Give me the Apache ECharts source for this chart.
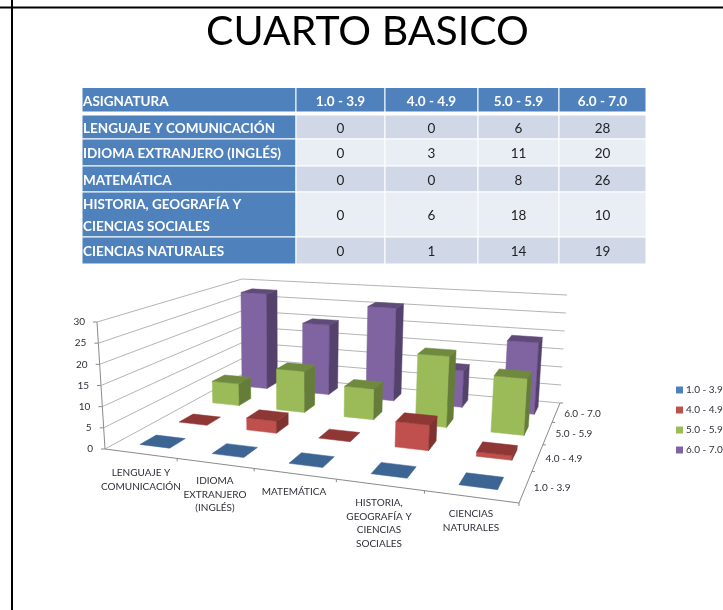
<!DOCTYPE html>
<html>
<head>
<meta charset="utf-8">
<title>CUARTO BASICO</title>
<style>
  html, body { margin: 0; padding: 0; background: #fff; }
  #main { width: 723px; height: 610px; }
</style>
<script src="https://cdn.jsdelivr.net/npm/echarts@6/dist/echarts.min.js"></script>
</head>
<body>
<div id="main"></div>
<script>
// datos de la tabla y del grafico
const subjects = ["LENGUAJE Y COMUNICACIÓN", "IDIOMA EXTRANJERO (INGLÉS)", "MATEMÁTICA", "HISTORIA, GEOGRAFÍA Y\nCIENCIAS SOCIALES", "CIENCIAS NATURALES"];
const axisLabels = ["LENGUAJE Y\nCOMUNICACIÓN", "IDIOMA\nEXTRANJERO\n(INGLÉS)", "MATEMÁTICA", "HISTORIA,\nGEOGRAFÍA Y\nCIENCIAS\nSOCIALES", "CIENCIAS\nNATURALES"];
const ranges = ["1.0 - 3.9", "4.0 - 4.9", "5.0 - 5.9", "6.0 - 7.0"];
const range1 = [0, 0, 0, 0, 0];
const range2 = [0, 3, 0, 6, 1];
const range3 = [6, 11, 8, 18, 14];
const range4 = [28, 20, 26, 10, 19];
const yTicks = [0, 5, 10, 15, 20, 25, 30];

const FONT = "Lato";
const TEXT = "#2f2f3a";

// caras de cada barra: frente, lado, tapa
const faces = [
  { front: "#4f81bd", side: "#385d8a", top: "#3c6594" },
  { front: "#c0504d", side: "#7f3330", top: "#8e3735" },
  { front: "#9bbb59", side: "#667d3a", top: "#6f8a3f" },
  { front: "#8064a2", side: "#54416c", top: "#5f4a7a" }
];

// esquinas del piso y del techo de la caja 3D en pantalla
const floorQuad = [[105, 449], [519, 503], [560, 403], [243, 374]];
const ceilQuad = [[97, 322], [530, 353], [567, 295], [242, 279]];

// cuadrado unitario -> cuadrilatero (perspectiva)
function squareToQuad(q) {
  const [p0, p1, p2, p3] = q;
  const dx1 = p1[0] - p2[0], dx2 = p3[0] - p2[0], sx = p0[0] - p1[0] + p2[0] - p3[0];
  const dy1 = p1[1] - p2[1], dy2 = p3[1] - p2[1], sy = p0[1] - p1[1] + p2[1] - p3[1];
  const den = dx1 * dy2 - dx2 * dy1;
  const g = (sx * dy2 - dx2 * sy) / den;
  const h = (dx1 * sy - sx * dy1) / den;
  const a = p1[0] - p0[0] + g * p1[0], b = p3[0] - p0[0] + h * p3[0], c = p0[0];
  const d = p1[1] - p0[1] + g * p1[1], e = p3[1] - p0[1] + h * p3[1], f = p0[1];
  return (u, v) => {
    const w = g * u + h * v + 1;
    return [(a * u + b * v + c) / w, (d * u + e * v + f) / w];
  };
}
const floorAt = squareToQuad(floorQuad);
const ceilAt = squareToQuad(ceilQuad);

// u: a lo ancho, w: profundidad, h: altura (0..1)
function project(u, w, h) {
  const a = floorAt(u, w), b = ceilAt(u, w);
  return [a[0] + (b[0] - a[0]) * h, a[1] + (b[1] - a[1]) * h];
}

function poly(points, color) {
  return { type: "polygon", shape: { points: points }, style: { fill: color, stroke: color, lineWidth: 0.5 } };
}
function line(a, b, color) {
  return { type: "line", shape: { x1: a[0], y1: a[1], x2: b[0], y2: b[1] }, style: { stroke: color, lineWidth: 1 } };
}
function label(x, y, text, align) {
  return {
    type: "text",
    style: { x: x, y: y, text: text, fill: TEXT, font: "10px " + FONT, align: align, verticalAlign: "middle", lineHeight: 13.5 }
  };
}

const BAR_W = 0.42, BAR_D = 0.4, BAR_SHIFT = 0.02;

function renderBar(depth) {
  return function(params, api) {
    const cs = params.coordSys;
    const pt = api.coord([api.value(0), api.value(1)]);
    const band = api.size([1, 0])[0];
    const cx = pt[0] + band * BAR_SHIFT;
    const u0 = (cx - band * BAR_W / 2 - cs.x) / cs.width;
    const u1 = (cx + band * BAR_W / 2 - cs.x) / cs.width;
    const h = (cs.y + cs.height - pt[1]) / cs.height;
    const w0 = (depth + (1 - BAR_D) / 2) / ranges.length;
    const w1 = (depth + (1 + BAR_D) / 2) / ranges.length;
    const c = faces[depth];
    const children = [];
    if (h > 0) {
      children.push(poly([project(u0, w0, 0), project(u1, w0, 0), project(u1, w0, h), project(u0, w0, h)], c.front));
      children.push(poly([project(u1, w0, 0), project(u1, w1, 0), project(u1, w1, h), project(u1, w0, h)], c.side));
    }
    children.push(poly([project(u0, w0, h), project(u1, w0, h), project(u1, w1, h), project(u0, w1, h)], c.top));
    return { type: "group", children: children };
  };
}

const labelX = [141, 215, 294, 379, 471];

// paredes, ejes y sus etiquetas
function renderBox(params, api) {
  const cs = params.coordSys;
  const pt = api.coord([0, api.value(0)]);
  const h = (cs.y + cs.height - pt[1]) / cs.height;
  const grid = "#b4b4b4", axis = "#8a8a8a";
  const p = project(0, 0, h);
  const children = [
    line(p, project(0, 1, h), grid),
    line(project(0, 1, h), project(1, 1, h), grid),
    line(p, [p[0] - 4, p[1]], axis),
    label(p[0] - 12, p[1], String(api.value(0)), "right")
  ];
  if (params.dataIndex === 0) {
    children.push(line(project(0, 0, 0), project(0, 0, 1), axis));
    children.push(line(project(0, 0, 0), project(1, 0, 0), axis));
    children.push(line(project(1, 0, 0), project(1, 1, 0), axis));
    axisLabels.forEach((name, i) => {
      const t = project((i + 1) / 5, 0, 0);
      children.push(line(t, [t[0], t[1] + 3], axis));
      const lines = name.split("\n").length;
      children.push(label(labelX[i], labelY[i] + (lines - 1) * 6.75, name, "center"));
    });
    ranges.forEach((name, d) => {
      const e = project(1, (d + 1) / 4, 0);
      children.push(line(e, [e[0] + 3, e[1]], axis));
      const m = project(1, (d + 0.5) / 4, 0);
      children.push(label(m[0] + 8, m[1] + 1, name, "left"));
    });
  }
  return { type: "group", children: children };
}
const labelY = [473, 481, 492, 503, 514];

// tabla
const colX = [82, 296, 385, 478, 559, 646];
const rowY = [87.5, 112, 115, 139, 139, 166, 166, 192, 192, 237, 237, 264];
function buildTable() {
  const out = [];
  const rect = (x0, x1, y0, y1, fill) => out.push({
    type: "rect",
    shape: { x: x0, y: y0, width: x1 - x0, height: y1 - y0 },
    style: { fill: fill, stroke: "#ffffff", lineWidth: 1 }
  });
  const text = (x, y, t, align, color, bold) => out.push({
    type: "text",
    style: { x: x, y: y + 1.5, text: t, align: align, verticalAlign: "middle", fill: color, lineHeight: 22, font: (bold ? "bold " : "") + "13.5px " + FONT }
  });
  const head = ["ASIGNATURA"].concat(ranges);
  head.forEach((t, c) => {
    rect(colX[c], colX[c + 1], rowY[0], rowY[1], "#4f81bd");
    if (c === 0) text(83, (rowY[0] + rowY[1]) / 2, t, "left", "#fff", true);
    else text((colX[c] + colX[c + 1]) / 2, (rowY[0] + rowY[1]) / 2, t, "center", "#fff", true);
  });
  const cols = [range1, range2, range3, range4];
  subjects.forEach((s, r) => {
    const y0 = rowY[2 + r * 2], y1 = rowY[3 + r * 2], my = (y0 + y1) / 2;
    rect(colX[0], colX[1], y0, y1, "#4f81bd");
    text(83, my, s, "left", "#fff", true);
    cols.forEach((col, c) => {
      rect(colX[c + 1], colX[c + 2], y0, y1, r % 2 === 0 ? "#d0d8e8" : "#e9edf4");
      text((colX[c + 1] + colX[c + 2]) / 2, my, String(col[r]), "center", "#222", false);
    });
  });
  return out;
}

const barData = [range1, range2, range3, range4].map(arr => arr.map((v, i) => [i, v]));

const chart = echarts.init(document.getElementById("main"), null, { renderer: "canvas" });
const series = [{
  type: "custom",
  name: "ejes",
  silent: true,
  z: 1,
  data: yTicks.map(t => [t]),
  encode: { y: 0 },
  renderItem: renderBox
}];
// de atras hacia adelante, para que las barras se tapen bien
for (let d = ranges.length - 1; d >= 0; d--) {
  series.push({
    type: "custom",
    name: ranges[d],
    z: 2,
    itemStyle: { color: faces[d].front, borderColor: faces[d].front, borderWidth: 4 },
    data: barData[d],
    encode: { x: 0, y: 1 },
    renderItem: renderBar(d)
  });
}

chart.setOption({
  animation: false,
  backgroundColor: "#ffffff",
  title: {
    text: "CUARTO BASICO",
    left: 362.5,
    top: 6,
    textAlign: "center",
    textStyle: { color: "#000", fontFamily: FONT, fontWeight: "normal", fontSize: 41 }
  },
  legend: {
    data: ranges.map((name, d) => ({
      name: name,
      itemStyle: { color: faces[d].front, borderColor: faces[d].front, borderWidth: 4 }
    })),
    orient: "vertical",
    left: 671,
    top: 380,
    itemWidth: 3,
    itemHeight: 3,
    itemGap: 10,
    icon: "rect",
    textStyle: { color: TEXT, fontFamily: FONT, fontSize: 10 }
  },
  // ejes ocultos: dan las escalas, la caja 3D las proyecta
  grid: { left: 100, top: 300, width: 400, height: 150 },
  xAxis: { type: "category", data: axisLabels, show: false },
  yAxis: { type: "value", min: 0, max: 30, interval: 5, show: false },
  graphic: [
    { type: "line", shape: { x1: 0, y1: 7.5, x2: 723, y2: 7.5 }, style: { stroke: "#000", lineWidth: 2 } },
    { type: "line", shape: { x1: 12, y1: 0, x2: 12, y2: 610 }, style: { stroke: "#000", lineWidth: 2 } }
  ].concat(buildTable()),
  series: series
});
</script>
</body>
</html>
